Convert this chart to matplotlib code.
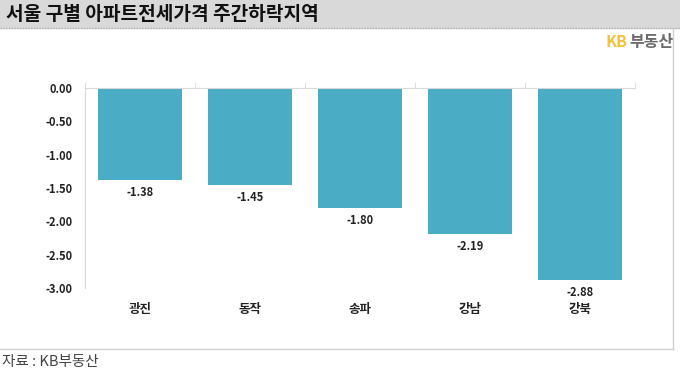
import matplotlib.pyplot as plt
import matplotlib.patches as mpatches
import matplotlib.lines as mlines
import numpy as np

plt.rcParams['font.family'] = ['Noto Sans CJK KR', 'DejaVu Sans']

# 데이터
regions = ['광진', '동작', '송파', '강남', '강북']
values = [-1.38, -1.45, -1.80, -2.19, -2.88]
yticks = [0.0, -0.5, -1.0, -1.5, -2.0, -2.5, -3.0]

bar_color = '#4BACC6'
grid_gray = '#d9d9d9'

fig = plt.figure(figsize=(6.8, 3.74), dpi=100)

# 상단 제목 띠
fig.patches.append(mpatches.Rectangle((0, 1 - 28 / 374), 1, 28 / 374,
                                      transform=fig.transFigure, color='#d9d9d9', zorder=0))
fig.lines.append(mlines.Line2D([0, 1], [1 - 28 / 374] * 2, transform=fig.transFigure,
                               color='#b0b0b0', lw=1, ls=(0, (1, 1))))
fig.text(0.009, 1 - 14 / 374, '서울 구별 아파트전세가격 주간하락지역', fontsize=13.8,
         fontweight='bold', color='#111111', va='center', ha='left')

# 테두리
fig.lines.append(mlines.Line2D([0, 673 / 680], [1 - 349 / 374] * 2, transform=fig.transFigure,
                               color='#d0d0d0', lw=1))
fig.lines.append(mlines.Line2D([673 / 680] * 2, [1 - 349 / 374, 1 - 29 / 374], transform=fig.transFigure,
                               color='#d0d0d0', lw=1))

# KB부동산 로고
fig.text(0.923, 1 - 42 / 374, 'KB', fontsize=11.5, fontweight='bold', color='#F2C23C',
         ha='right', va='center')
fig.text(0.925, 1 - 42 / 374, '부동산', fontsize=11.5, fontweight='bold', color='#6b6b6b',
         ha='left', va='center')

# 출처
fig.text(0.003, 1 - 362 / 374, '자료 : KB부동산', fontsize=10.5, color='#444444',
         ha='left', va='center')

ax = fig.add_axes([85 / 680, 1 - 288 / 374, 550 / 680, 200 / 374])
x = np.arange(len(regions))
bars = ax.bar(x, values, width=0.76, color=bar_color, zorder=2)

for xi, v in zip(x, values):
    ax.annotate(f'{v:.2f}', (xi, v), xytext=(0, -4.5), textcoords='offset points',
                ha='center', va='top', fontsize=8, fontweight='bold', color='#222222')

ax.set_xlim(-0.5, len(regions) - 0.5)
ax.set_ylim(-3.0, 0.0)
ax.set_yticks(yticks)
ax.set_yticklabels([f'{t:.2f}' for t in yticks], fontsize=8, fontweight='bold', color='#222222')
ax.tick_params(axis='y', length=0, pad=9)
ax.set_yticks([-3.0], minor=True)
ax.tick_params(axis='y', which='minor', length=4, color=grid_gray)

ax.set_xticks(x)
ax.set_xticklabels(regions, fontsize=9, fontweight='bold', color='#222222')
ax.tick_params(axis='x', which='major', length=0, pad=11)
ax.set_xticks(np.arange(-0.5, len(regions)), minor=True)
ax.tick_params(axis='x', which='minor', bottom=False, top=True, direction='out',
               length=4, color=grid_gray)

for s in ['right', 'bottom']:
    ax.spines[s].set_visible(False)
for s in ['left', 'top']:
    ax.spines[s].set_color(grid_gray)
    ax.spines[s].set_linewidth(0.8)

fig.savefig('out.png', dpi=100)
